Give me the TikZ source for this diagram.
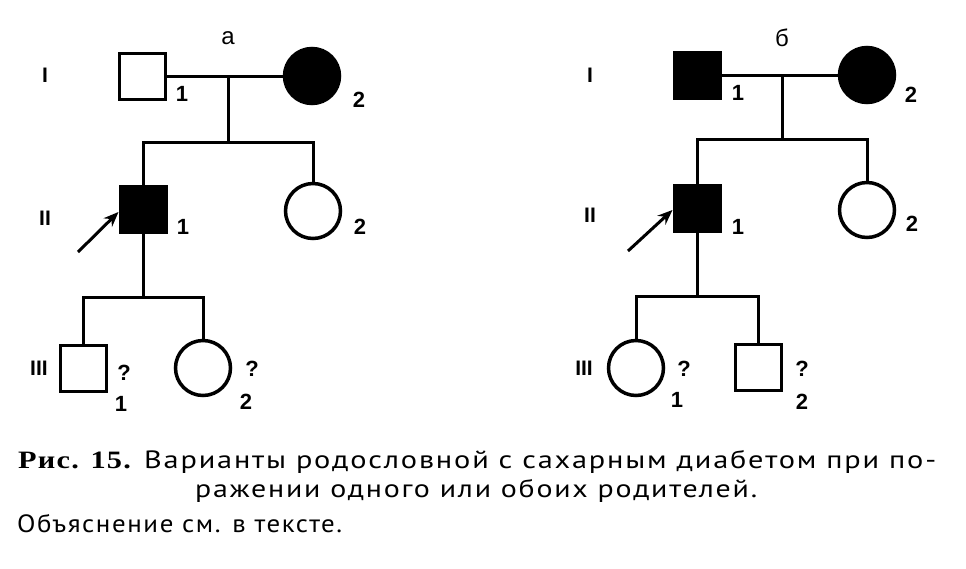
\documentclass[tikz,border=0pt]{standalone}
\usepackage{fontspec}
\usepackage{graphicx}
\setmainfont{Liberation Serif}
\newfontfamily\lblfont{Liberation Sans}
\newfontfamily\capfont[LetterSpace=6]{PT Sans}
\newfontfamily\capbold[LetterSpace=4]{Liberation Serif}
\usetikzlibrary{arrows.meta}
\begin{document}
\begin{tikzpicture}[x=1pt,y=-1pt,
  ln/.style={line width=3pt},
  sq/.style={draw,line width=3pt,minimum size=46pt,inner sep=0pt,rectangle},
  ci/.style={draw,line width=3.5pt,minimum size=55pt,inner sep=0pt,circle},
  aff/.style={fill=black},
  lbl/.style={font=\lblfont\bfseries\fontsize{22}{22}\selectfont,inner sep=0pt},
  gen/.style={font=\lblfont\bfseries\fontsize{21}{21}\selectfont,inner sep=0pt},
  prob/.style={ln,-{Stealth[length=15pt,width=12pt,inset=5pt]}},
  captext/.style={anchor=base west,inner sep=0pt,font=\capfont\fontsize{25}{25}\selectfont}
]
\useasboundingbox[fill=white] (0,0) rectangle (966,568);

% ===== Panel a =====
\node[gen] (aI) at (45,75) {I};
\node[gen] (aII) at (45,218) {II};
\node[gen] (aIII) at (39,368) {III};
\node[lbl,font=\lblfont\fontsize{24}{24}\selectfont] (alet) at (228,38) {a};

\node[sq] (a11) at (142,76) {};
\node[ci,aff] (a12) at (312,76) {};
\coordinate (amar) at (228,76);
\coordinate (asib) at (228,142);
\node[sq,aff] (a21) at (143,209) {};
\node[ci] (a22) at (313,211) {};
\coordinate (a21s) at (143,297);
\node[sq] (a31) at (83,368) {};
\node[ci] (a32) at (203,368) {};

\draw[ln] (a11.east) -- (a12.west);
\draw[ln] (amar) -- (asib);
\draw[ln] (a21.north) |- (asib) -| (a22.north);
\draw[ln] (a21.south) -- (a21s);
\draw[ln] (a31.north) |- (a21s) -| (a32.north);

\node[lbl] (a11n) at (182,94) {1};
\node[lbl] (a12n) at (359,100) {2};
\node[lbl] (a21n) at (183,227) {1};
\node[lbl] (a22n) at (360,227) {2};
\node[lbl] (a31q) at (124,373) {?};
\node[lbl] (a31n) at (121,404) {1};
\node[lbl] (a32q) at (252,369) {?};
\node[lbl] (a32n) at (246,402) {2};

\coordinate (aarr) at (78,252);
\draw[prob] (aarr) -- (a21.west |- 0,212);

% ===== Panel b =====
\node[gen] (bI) at (590,75) {I};
\node[gen] (bII) at (590,215) {II};
\node[gen] (bIII) at (584,368) {III};
\node[lbl,font=\lblfont\fontsize{24}{24}\selectfont] (blet) at (782,38) {б};

\node[sq,aff] (b11) at (697,75) {};
\node[ci,aff] (b12) at (867,75) {};
\coordinate (bmar) at (782,75);
\coordinate (bsib) at (782,139);
\node[sq,aff] (b21) at (697,208) {};
\node[ci] (b22) at (867,210) {};
\coordinate (b21s) at (697,296);
\node[ci] (b31) at (636,368) {};
\node[sq] (b32) at (758,367) {};

\draw[ln] (b11.east) -- (b12.west);
\draw[ln] (bmar) -- (bsib);
\draw[ln] (b21.north) |- (bsib) -| (b22.north);
\draw[ln] (b21.south) -- (b21s);
\draw[ln] (b31.north) |- (b21s) -| (b32.north);

\node[lbl] (b11n) at (738,93) {1};
\node[lbl] (b12n) at (911,95) {2};
\node[lbl] (b21n) at (738,227) {1};
\node[lbl] (b22n) at (912,224) {2};
\node[lbl] (b31q) at (684,369) {?};
\node[lbl] (b31n) at (677,400) {1};
\node[lbl] (b32q) at (802,369) {?};
\node[lbl] (b32n) at (802,402) {2};

\coordinate (barr) at (628,251);
\draw[prob] (barr) -- (b21.west |- 0,210);

% ===== Caption =====
\node[captext] (c1) at (18,468) {\resizebox{918pt}{\height}{{\capbold\bfseries Рис. 15.} Варианты родословной с сахарным диабетом при по-}};
\node[captext] (c2) at (195,497) {\resizebox{562pt}{\height}{ражении одного или обоих родителей.}};
\node[captext] (c3) at (17,532) {\resizebox{325pt}{\height}{Объяснение см. в тексте.}};
\end{tikzpicture}
\end{document}
